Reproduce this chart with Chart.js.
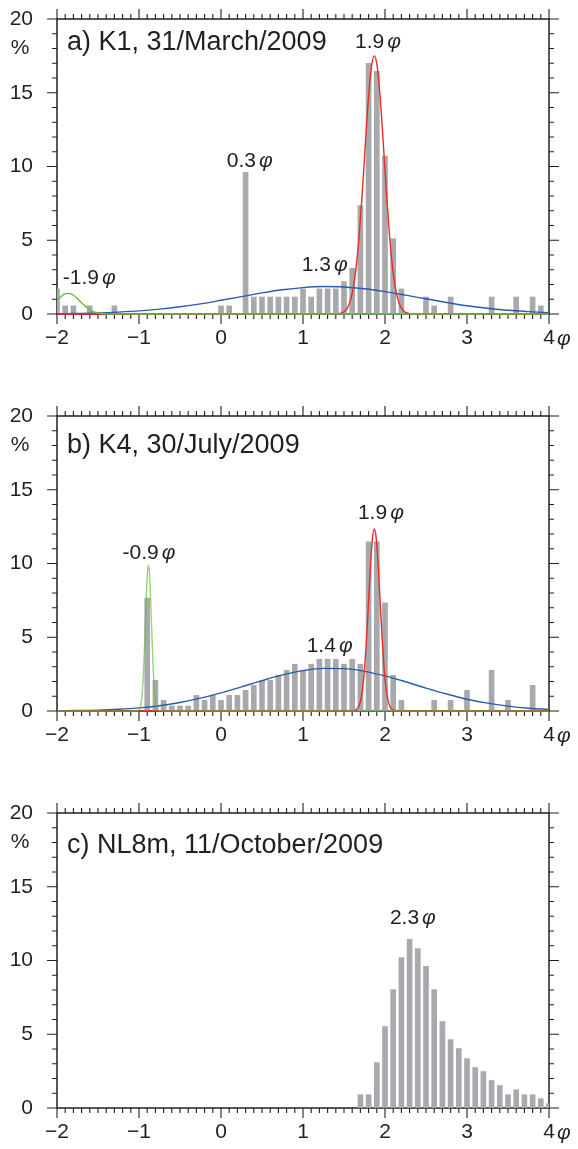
<!DOCTYPE html>
<html>
<head>
<meta charset="utf-8">
<script src="https://cdn.jsdelivr.net/npm/chart.js@4"></script>
<style>
  html, body { margin: 0; padding: 0; background: #fff; }
  .panel { position: absolute; left: 0; width: 578px; }
  .panel canvas { display: block; }
</style>
</head>
<body>
<div class="panel" style="top:0;height:397px"><canvas id="chartA"></canvas></div>
<div class="panel" style="top:397px;height:397px"><canvas id="chartB"></canvas></div>
<div class="panel" style="top:794px;height:355px"><canvas id="chartC"></canvas></div>
<script>
const INK = '#231f20';
const BAR = '#a7a9ac';
const BLUE = '#2a5caa';
const RED = '#ee2a24';
const GREEN = '#66bd45';
const GREEN_B = 'rgba(96,186,58,0.65)';
const FONT = "'Liberation Sans', Arial, sans-serif";

/* ── data ─────────────────────────────────────── */
// a) K1, 31/March/2009
const A_PHI = [-2.0,-1.9,-1.8,-1.6,-1.3,0.0,0.1,0.3,0.4,0.5,0.6,0.7,0.8,0.9,1.0,1.1,1.2,1.3,1.4,1.5,1.6,1.7,1.8,1.9,2.0,2.1,2.2,2.5,2.6,2.8,3.3,3.6,3.8,3.9];
const A_PCT = [1.7,0.55,0.55,0.55,0.55,0.55,0.55,9.6,1.15,1.15,1.15,1.15,1.15,1.15,1.7,1.15,1.7,1.7,1.7,2.2,3.1,7.35,17.0,16.45,10.7,5.1,1.7,1.15,0.55,1.15,1.15,1.15,1.15,0.55];
const A_BLUE_X = [-2,-1.75,-1.5,-1.25,-1,-0.75,-0.5,-0.25,0,0.25,0.5,0.75,1,1.25,1.5,1.75,2,2.25,2.5,2.75,3,3.25,3.5,3.75,4];
const A_BLUE_Y = [0.02,0.04,0.07,0.13,0.21,0.33,0.49,0.69,0.93,1.18,1.43,1.64,1.79,1.86,1.83,1.71,1.52,1.28,1.03,0.78,0.56,0.39,0.25,0.16,0.09];
const A_RED_X = [-2,1.42,1.47,1.51,1.54,1.57,1.60,1.63,1.66,1.69,1.72,1.75,1.78,1.81,1.84,1.87,1.90,1.93,1.96,1.99,2.02,2.05,2.08,2.11,2.14,2.17,2.20,2.23,2.27,2.32,4];
const A_RED_Y = [0,0,0.07,0.19,0.40,0.77,1.39,2.37,3.79,5.68,8.01,10.61,13.21,15.44,16.96,17.5,16.96,15.44,13.21,10.61,8.01,5.68,3.79,2.37,1.39,0.77,0.40,0.19,0.07,0,0];
const A_GREEN_X = [-2.0,-1.95,-1.9,-1.865,-1.83,-1.8,-1.75,-1.7,-1.65,-1.6,-1.55,-1.5,-1.45,-1.4,-1.3,4];
const A_GREEN_Y = [0.93,1.19,1.36,1.40,1.36,1.27,1.04,0.76,0.50,0.29,0.15,0.07,0.03,0.01,0,0];

// b) K4, 30/July/2009
const B_PHI = [-0.9,-0.8,-0.7,-0.6,-0.5,-0.4,-0.3,-0.2,-0.1,0.0,0.1,0.2,0.3,0.4,0.5,0.6,0.7,0.8,0.9,1.0,1.1,1.2,1.3,1.4,1.5,1.6,1.7,1.8,1.9,2.0,2.1,2.2,2.6,2.8,3.0,3.3,3.5,3.8];
const B_PCT = [7.65,2.08,0.72,0.34,0.34,0.34,1.06,0.72,1.06,0.72,1.06,1.06,1.40,1.74,2.08,2.08,2.42,2.76,3.17,2.76,3.17,3.51,3.51,3.51,3.17,3.51,3.17,11.47,11.47,7.33,2.42,0.72,0.72,0.72,1.40,2.76,0.72,1.74];
const B_BLUE_X = [-2,-1.75,-1.5,-1.25,-1,-0.75,-0.5,-0.25,0,0.25,0.5,0.75,1,1.25,1.5,1.75,2,2.25,2.5,2.75,3,3.25,3.5,3.75,4];
const B_BLUE_Y = [0.015,0.03,0.06,0.12,0.21,0.36,0.58,0.87,1.23,1.64,2.06,2.45,2.74,2.89,2.87,2.69,2.38,1.98,1.55,1.15,0.80,0.53,0.33,0.19,0.11];
const B_RED_X = [-2,1.60,1.64,1.67,1.69,1.71,1.73,1.75,1.77,1.79,1.81,1.83,1.85,1.87,1.89,1.91,1.93,1.95,1.97,1.99,2.01,2.03,2.05,2.07,2.10,2.14,4];
const B_RED_Y = [0,0,0.06,0.21,0.45,0.91,1.67,2.84,4.45,6.43,8.56,10.49,11.86,12.35,11.86,10.49,8.56,6.43,4.45,2.84,1.67,0.91,0.45,0.21,0.06,0,0];
const B_GREEN_X = [-2,-1.025,-1.005,-0.99,-0.975,-0.96,-0.945,-0.93,-0.915,-0.90,-0.885,-0.87,-0.855,-0.84,-0.825,-0.81,-0.795,-0.78,-0.765,-0.745,4];
const B_GREEN_Y = [0,0,0.05,0.18,0.51,1.27,2.66,4.72,7.13,9.12,9.9,9.12,7.13,4.72,2.66,1.27,0.51,0.18,0.05,0,0];

// c) NL8m, 11/October/2009
const C_PHI = [1.7,1.8,1.9,2.0,2.1,2.2,2.3,2.4,2.5,2.6,2.7,2.8,2.9,3.0,3.1,3.2,3.3,3.4,3.5,3.6,3.7,3.8,3.9,4.0];
const C_PCT = [0.9,0.9,3.08,5.52,8.03,10.2,11.43,10.8,9.6,8.03,5.86,4.64,4.03,3.35,2.74,2.47,1.86,1.52,0.9,1.24,0.9,0.9,0.63,0.3];

const X_TICKS = [-2,-1,0,1,2,3,4];
const Y_TICKS = [0,5,10,15,20];

/* ── frame, ticks and text ────────────────────── */
const frame = {
  id: 'frame',
  beforeDatasetsDraw(chart) {
    const { ctx, chartArea: a, scales: { x, y } } = chart;
    ctx.save();
    ctx.strokeStyle = INK;
    ctx.lineWidth = 1.5;
    ctx.strokeRect(a.left, a.top, a.right - a.left, a.bottom - a.top);
    ctx.lineWidth = 1.1;
    ctx.beginPath();
    for (let i = -20; i <= 40; i++) {
      const px = x.getPixelForValue(i / 10), len = i % 10 === 0 ? 10 : 5;
      ctx.moveTo(px, a.bottom); ctx.lineTo(px, a.bottom + len);
      ctx.moveTo(px, a.top); ctx.lineTo(px, a.top - len);
    }
    for (let v = 0; v <= 20; v++) {
      const py = y.getPixelForValue(v), len = v % 5 === 0 ? 10 : 5;
      ctx.moveTo(a.left, py); ctx.lineTo(a.left - len, py);
      ctx.moveTo(a.right, py); ctx.lineTo(a.right + len, py);
    }
    ctx.stroke();
    ctx.restore();
  },
  afterDraw(chart, args, opts) {
    const { ctx, chartArea: a, scales: { x, y } } = chart;
    ctx.save();
    ctx.fillStyle = INK;
    ctx.textBaseline = 'alphabetic';
    // title
    ctx.font = `27px ${FONT}`;
    ctx.textAlign = 'left';
    ctx.fillText(opts.title, a.left + 10, a.top + opts.titleDy);
    // unit
    ctx.font = `21px ${FONT}`;
    ctx.textAlign = 'center';
    ctx.fillText('%', 20, a.top + 35);
    // phi after the last x label
    ctx.textAlign = 'left';
    ctx.font = `italic 21px ${FONT}`;
    ctx.fillText('\u03c6', x.getPixelForValue(4) + 8, a.bottom + 31);
    // peak notes
    (opts.notes || []).forEach(n => {
      const px = x.getPixelForValue(n.x), py = y.getPixelForValue(n.y);
      ctx.font = `21px ${FONT}`;
      ctx.fillText(n.t, px, py);
      const w = ctx.measureText(n.t).width;
      ctx.font = `italic 21px ${FONT}`;
      ctx.fillText('\u03c6', px + w + 3, py);
    });
    ctx.restore();
  },
};

Chart.defaults.font.family = FONT;
Chart.defaults.font.size = 21;
Chart.defaults.color = INK;
Chart.defaults.plugins.legend.display = false;
Chart.defaults.plugins.tooltip.enabled = false;

const pts = (xs, ys) => xs.map((v, i) => ({ x: v, y: ys[i] }));
const curve = (xs, ys, color, order) => ({
  type: 'line', data: pts(xs, ys), borderColor: color, borderWidth: 1.4,
  pointRadius: 0, cubicInterpolationMode: 'monotone', fill: false, clip: 3, order,
});

function makeChart(id, height, bars, curves, title, titleDy, notes) {
  return new Chart(document.getElementById(id), {
    type: 'bar',
    data: {
      datasets: [
        ...curves,
        { type: 'bar', data: bars, backgroundColor: BAR, borderWidth: 0, barThickness: 5, order: 10 },
      ],
    },
    options: {
      responsive: true, maintainAspectRatio: false, animation: false, events: [],
      layout: { padding: { top: 19, right: 29, left: 0, bottom: 0 } },
      scales: {
        x: {
          type: 'linear', min: -2, max: 4, offset: false,
          grid: { display: false, drawTicks: false }, border: { display: false },
          afterBuildTicks: s => { s.ticks = X_TICKS.map(v => ({ value: v })); },
          ticks: { padding: 12, maxRotation: 0, autoSkip: false,
                   callback: v => v < 0 ? '\u2212' + Math.abs(v) : String(v) },
          afterFit: s => { s.height = height - 19 - 295; },
        },
        y: {
          min: 0, max: 20,
          grid: { display: false, drawTicks: false }, border: { display: false },
          afterBuildTicks: s => { s.ticks = Y_TICKS.map(v => ({ value: v })); },
          ticks: { padding: 24 },
          afterFit: s => { s.width = 57; s.paddingTop = 0; s.paddingBottom = 0; },
        },
      },
      plugins: { frame: { title, titleDy, notes } },
    },
    plugins: [frame],
  });
}

makeChart('chartA', 397, pts(A_PHI, A_PCT), [
  curve(A_GREEN_X, A_GREEN_Y, GREEN, 1),
  curve(A_RED_X, A_RED_Y, RED, 2),
  curve(A_BLUE_X, A_BLUE_Y, BLUE, 3),
], 'a) K1, 31/March/2009', 31, [
  { x: 1.634, y: 18.03, t: '1.9' },
  { x: 0.07, y: 9.97, t: '0.3' },
  { x: -1.93, y: 2.03, t: '-1.9' },
  { x: 0.984, y: 2.92, t: '1.3' },
]);

makeChart('chartB', 397, pts(B_PHI, B_PCT), [
  curve(B_GREEN_X, B_GREEN_Y, GREEN_B, 1),
  curve(B_RED_X, B_RED_Y, RED, 2),
  curve(B_BLUE_X, B_BLUE_Y, BLUE, 3),
], 'b) K4, 30/July/2009', 37, [
  { x: -1.2, y: 10.28, t: '-0.9' },
  { x: 1.67, y: 12.99, t: '1.9' },
  { x: 1.045, y: 4.0, t: '1.4' },
]);

makeChart('chartC', 355, pts(C_PHI, C_PCT), [], 'c) NL8m, 11/October/2009', 40, [
  { x: 2.06, y: 12.45, t: '2.3' },
]);
</script>
</body>
</html>
